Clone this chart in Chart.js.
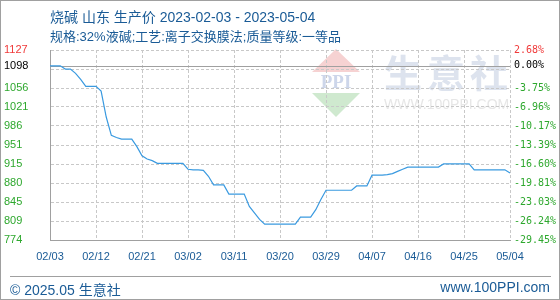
<!DOCTYPE html>
<html>
<head>
<meta charset="utf-8">
<script src="https://cdn.jsdelivr.net/npm/chart.js@4.4.0/dist/chart.umd.min.js"></script>
<style>
  html, body { margin: 0; padding: 0; background: #fff; }
  #page { position: relative; width: 560px; height: 300px; overflow: hidden; }
  #frame { position: absolute; left: 0; top: 0; width: 558px; height: 298px; border: 1px solid #a0a0a0; pointer-events: none; }
  #wrap { position: absolute; left: 0; top: 0; width: 560px; height: 300px; }
  #priceChart { display: block; width: 560px; height: 300px; }
  .txt { position: absolute; white-space: nowrap; color: #1a5b96; font-family: "Liberation Sans", "Noto Sans CJK SC", sans-serif; }
  #t1 { left: 50px; top: 6px; font-size: 14px; }
  #t2 { left: 50px; top: 26px; font-size: 13px; }
  #sep { position: absolute; left: 10px; top: 276px; width: 541px; height: 1px; background: #a0a0a0; }
  #f1 { left: 10px; top: 279px; font-size: 14px; }
  #f2 { right: 10px; top: 279px; font-size: 14px; }
</style>
</head>
<body>
<div id="page">
  <div id="wrap"><canvas id="priceChart" width="560" height="300"></canvas></div>
  <div class="txt" id="t1">烧碱 山东 生产价 2023-02-03 - 2023-05-04</div>
  <div class="txt" id="t2">规格:32%液碱;工艺:离子交换膜法;质量等级:一等品</div>
  <div id="sep"></div>
  <div class="txt" id="f1">© 2025.05 生意社</div>
  <div class="txt" id="f2">www.100PPI.com</div>
  <div id="frame"></div>
</div>
<script>
// Tagespreise 02/03 - 05/04
const prices = [
  1098, 1098, 1098, 1092, 1092, 1084, 1073, 1060, 1060, 1060,
  1051, 1003, 969, 965, 962, 962, 962, 948, 931, 925,
  922, 917, 917, 917, 917, 917, 917, 906, 905, 905,
  904, 893, 877, 877, 877, 860, 860, 860, 860, 837,
  825, 813, 804, 804, 804, 804, 804, 804, 804, 817,
  817, 817, 831, 850, 867, 867, 867, 867, 867, 867,
  875, 875, 875, 895, 895, 895, 896, 898, 902, 906,
  910, 910, 910, 910, 910, 910, 910, 916, 916, 916,
  916, 916, 916, 905, 905, 905, 905, 905, 905, 905,
  899
];

// Achsenbeschriftungen (von oben nach unten)
const priceTicks = ["1127", "1098", "1056", "1021", "986", "951", "915", "880", "845", "809", "774"];
const pctTicks = ["2.68%", "0.00%", "-3.75%", "-6.96%", "-10.17%", "-13.39%", "-16.60%", "-19.81%", "-23.03%", "-26.24%", "-29.45%"];
const basePrice = 1098;
const yTop = 1127.43;
const yBottom = 774.64;
const labelEvery = 9; // alle 9 Tage ein Datum

// Datumskategorien 02/03 ... 05/04
const dates = [];
for (let i = 0; i < prices.length; i++) {
    const d = new Date(2023, 1, 3 + i);
    dates.push(String(d.getMonth() + 1).padStart(2, "0") + "/" + String(d.getDate()).padStart(2, "0"));
}

const RED = "#f03a3a", GREEN = "#2ea82e", BLACK = "#000000", GRID = "#c8c8c8", AXIS = "#a0a0a0";

// gleichmäßige Gitterwerte + Basispreis als Extra-Tick
function buildPriceTicks(scale) {
    const step = (yTop - yBottom) / 10;
    const t = [];
    for (let k = 0; k <= 10; k++) t.push({ value: yTop - k * step });
    t.push({ value: basePrice });
    scale.ticks = t;
}

function tickColor(ctx) {
    if (ctx.index === 0) return RED;
    if (ctx.index === 11) return BLACK;
    return GREEN;
}

// Wasserzeichen + Basislinie
const decorPlugin = {
    id: "decor",
    beforeDraw(chart) {
        const c = chart.ctx;
        c.save();
        c.fillStyle = "#f6d2d2";
        c.beginPath(); c.moveTo(312, 72); c.lineTo(360, 72); c.lineTo(336, 49); c.closePath(); c.fill();
        c.fillStyle = "#cfe9cf";
        c.beginPath(); c.moveTo(312, 93); c.lineTo(360, 93); c.lineTo(336, 117); c.closePath(); c.fill();
        c.fillStyle = "#cdd6ea";
        c.font = "bold 19px 'Liberation Serif'";
        c.textAlign = "center"; c.textBaseline = "middle";
        c.fillText("PPI", 336, 83);
        c.fillStyle = "#dde3ee";
        c.font = "bold 38px 'Noto Sans CJK SC'";
        c.textAlign = "left";
        const wm = "生意社";
        for (let i = 0; i < wm.length; i++) c.fillText(wm[i], 384 + i * 43, 73);
        c.fillStyle = "#e6e6e6";
        c.font = "14px 'Liberation Sans'";
        c.fillText("WWW.100PPI.COM", 384, 105);
        c.restore();
    },
    beforeDatasetsDraw(chart) {
        const a = chart.chartArea;
        const y = Math.round(chart.scales.y.getPixelForValue(basePrice)) + 0.5;
        const c = chart.ctx;
        c.save();
        c.strokeStyle = AXIS;
        c.lineWidth = 1;
        c.beginPath(); c.moveTo(a.left, y); c.lineTo(a.right, y); c.stroke();
        c.restore();
    }
};

new Chart(document.getElementById("priceChart").getContext("2d"), {
    type: "line",
    data: {
        labels: dates,
        datasets: [{
            data: prices,
            borderColor: "#3a9ae0",
            borderWidth: 1.2,
            pointRadius: 0,
            tension: 0,
            fill: false
        }]
    },
    options: {
        responsive: false,
        animation: false,
        devicePixelRatio: 1,
        layout: { padding: { left: 4, top: 50, right: 0, bottom: 30 } },
        plugins: { legend: { display: false }, tooltip: { enabled: false } },
        scales: {
            x: {
                type: "category",
                grid: {
                    color: ctx => (ctx.index === 0 ? "transparent" : GRID),
                    drawTicks: false
                },
                border: { display: true, color: AXIS, width: 1, dash: [3, 2] },
                ticks: {
                    autoSkip: false,
                    maxRotation: 0,
                    padding: 10,
                    color: "#1a5b96",
                    font: { family: "Liberation Sans", size: 11 },
                    callback: function (value, index) {
                        return index % labelEvery === 0 ? this.getLabelForValue(value) : null;
                    }
                },
                afterFit: scale => { scale.height = 30; }
            },
            y: {
                position: "left",
                min: yBottom,
                max: yTop,
                afterBuildTicks: buildPriceTicks,
                grid: {
                    color: ctx => (ctx.index === 10 || ctx.index === 11 ? "transparent" : GRID),
                    drawTicks: false
                },
                border: { display: true, color: AXIS, width: 1, dash: [3, 2] },
                ticks: {
                    autoSkip: false,
                    crossAlign: "far",
                    padding: 4,
                    color: tickColor,
                    font: { family: "Liberation Sans", size: 11 },
                    callback: (value, index) => (index === 1 ? "" : index === 11 ? priceTicks[1] : priceTicks[index])
                },
                afterFit: scale => { scale.width = 46; }
            },
            y2: {
                position: "right",
                min: yBottom,
                max: yTop,
                afterBuildTicks: buildPriceTicks,
                grid: { drawOnChartArea: false, drawTicks: false },
                border: { display: false },
                ticks: {
                    autoSkip: false,
                    padding: 4,
                    color: tickColor,
                    font: { family: "DejaVu Sans Mono", size: 10 },
                    callback: (value, index) => (index === 1 ? "" : index === 11 ? pctTicks[1] : pctTicks[index])
                },
                afterFit: scale => { scale.width = 50; }
            }
        }
    },
    plugins: [decorPlugin]
});
</script>
</body>
</html>
